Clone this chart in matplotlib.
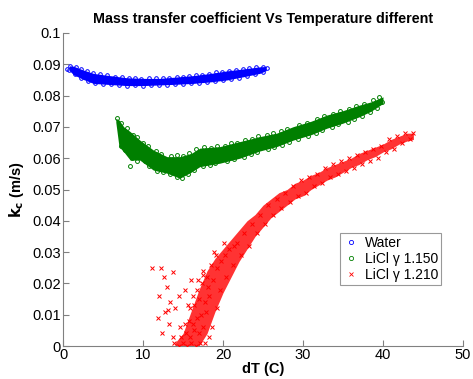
import matplotlib
matplotlib.use("Agg")
import matplotlib.pyplot as plt
from matplotlib.ticker import FuncFormatter
from matplotlib.lines import Line2D

plt.rcParams['font.family'] = ['Liberation Sans', 'DejaVu Sans']

title = "Mass transfer coefficient Vs Temperature different"
xlabel = "dT (C)"
ylabel = r"$\mathbf{k_c}$ (m/s)"
legend_labels = ["Water", "LiCl \u03b3 1.150", "LiCl \u03b3 1.210"]
xticks = [0, 10, 20, 30, 40, 50]
yticks = [0, 0.01, 0.02, 0.03, 0.04, 0.05, 0.06, 0.07, 0.08, 0.09, 0.1]

BLUE, GREEN, RED = '#0000ff', '#007f00', '#ff0000'

# ---- Water: band envelope + edge points ----
water_env_x = [0.8, 1.3, 2.5, 3.8, 5.5, 8.0, 10.0, 12.1, 14.0, 16.3, 18.5, 20.5, 22.5, 24.6, 25.4]
water_hi = [0.0895, 0.0894, 0.0882, 0.0871, 0.0865, 0.0857, 0.0855, 0.0855, 0.0859, 0.0864,
            0.0871, 0.0879, 0.0885, 0.0892, 0.0893]
water_lo = [0.0880, 0.0867, 0.0852, 0.0839, 0.0836, 0.0832, 0.0832, 0.0834, 0.0836, 0.0839,
            0.0844, 0.0850, 0.0860, 0.0871, 0.0880]
water_x = [0.9, 1.6, 2.2, 3.0, 3.8, 4.6, 5.5, 6.5, 7.4, 8.2, 9.0, 9.8, 10.8, 11.6, 12.5, 13.3,
           14.2, 15.0, 15.8, 16.6, 17.4, 18.3, 19.1, 19.9, 20.8, 21.6, 22.5, 23.3, 24.1, 25.0,
           0.8, 1.5, 2.3, 3.1, 4.0, 5.0, 6.0, 7.0, 8.0, 9.0, 10.0, 11.0, 12.0, 13.0, 14.0, 15.0,
           16.0, 17.0, 18.0, 19.0, 20.0, 21.0, 22.0, 23.0, 24.0, 25.0, 0.5, 25.5]
water_y = [0.0895, 0.0890, 0.0885, 0.0878, 0.0871, 0.0868, 0.0865, 0.0861, 0.0858, 0.0856,
           0.0857, 0.0854, 0.0855, 0.0857, 0.0855, 0.0857, 0.0859, 0.0861, 0.0862, 0.0865,
           0.0867, 0.0870, 0.0874, 0.0876, 0.0880, 0.0882, 0.0885, 0.0888, 0.0890, 0.0892,
           0.0882, 0.0868, 0.0856, 0.0846, 0.0840, 0.0837, 0.0836, 0.0834, 0.0832, 0.0833,
           0.0831, 0.0833, 0.0834, 0.0834, 0.0836, 0.0837, 0.0839, 0.0840, 0.0843, 0.0846,
           0.0849, 0.0853, 0.0857, 0.0863, 0.0868, 0.0876, 0.0886, 0.0889]

# ---- LiCl gamma 1.150 ----
licl1_env_x = [6.6, 7.0, 7.6, 8.4, 9.6, 11.3, 13.0, 14.6, 16.0, 17.1, 19.6, 22.1, 24.6, 26.7,
               28.8, 31.0, 33.0, 35.0, 37.1, 38.5, 40.0]
licl1_hi = [0.0727, 0.0722, 0.0700, 0.0685, 0.0658, 0.0626, 0.0605, 0.0605, 0.0615, 0.0632,
            0.0637, 0.0653, 0.0669, 0.0680, 0.0701, 0.0718, 0.0738, 0.0752, 0.0770, 0.0780, 0.0796]
licl1_lo = [0.0715, 0.0637, 0.0620, 0.0594, 0.0594, 0.0562, 0.0552, 0.0536, 0.0555, 0.0573,
            0.0584, 0.0600, 0.0623, 0.0637, 0.0658, 0.0675, 0.0696, 0.0712, 0.0733, 0.0750, 0.0775]
licl1_x = [6.7, 7.3, 8.0, 8.8, 9.3, 10.0, 10.6, 11.6, 12.3, 13.5, 14.2, 15.0, 15.8, 16.6, 17.6,
           18.5, 19.2, 20.2, 21.0, 21.8, 22.8, 23.6, 24.4, 25.5, 26.3, 27.2, 28.0, 29.5, 30.5,
           31.8, 32.6, 33.8, 34.6, 35.8, 36.6, 37.6, 38.8, 39.5,
           7.2, 7.8, 8.4, 8.6, 9.2, 10.2, 10.8, 11.8, 12.5, 13.4, 14.2, 14.9, 15.6, 16.4, 17.5,
           18.4, 19.0, 20.5, 21.4, 22.6, 23.5, 24.3, 25.6, 26.4, 27.4, 28.2, 29.4, 30.6, 31.6,
           32.4, 33.6, 34.4, 35.6, 36.4, 37.4, 38.4, 39.2, 39.9]
licl1_y = [0.0728, 0.0712, 0.0695, 0.0675, 0.0668, 0.0650, 0.0640, 0.0622, 0.0615, 0.0608,
           0.0610, 0.0608, 0.0616, 0.0628, 0.0635, 0.0632, 0.0640, 0.0640, 0.0648, 0.0650,
           0.0658, 0.0662, 0.0670, 0.0675, 0.0680, 0.0688, 0.0693, 0.0705, 0.0712, 0.0725,
           0.0735, 0.0742, 0.0750, 0.0758, 0.0767, 0.0772, 0.0785, 0.0795,
           0.0640, 0.0625, 0.0575, 0.0600, 0.0592, 0.0590, 0.0575, 0.0560, 0.0555, 0.0548,
           0.0540, 0.0538, 0.0550, 0.0562, 0.0575, 0.0578, 0.0585, 0.0590, 0.0598, 0.0603,
           0.0612, 0.0620, 0.0628, 0.0635, 0.0642, 0.0652, 0.0662, 0.0670, 0.0680, 0.0690,
           0.0700, 0.0708, 0.0715, 0.0725, 0.0735, 0.0748, 0.0760, 0.0778]

# ---- LiCl gamma 1.210 ----
licl2_env_x = [14.0, 15.0, 16.0, 17.0, 18.0, 19.0, 20.0, 21.0, 22.0, 23.0, 24.0, 25.0, 26.0,
               27.0, 28.0, 29.0, 30.0, 31.0, 32.0, 33.0, 34.0, 35.0, 36.0, 37.0, 38.0, 39.0,
               40.0, 41.0, 42.0, 43.0, 43.8]
licl2_lo = [0.000, 0.000, 0.000, 0.000, 0.004, 0.011, 0.017, 0.022, 0.027, 0.031, 0.035, 0.038,
            0.041, 0.043, 0.045, 0.047, 0.048, 0.050, 0.0515, 0.053, 0.054, 0.0555, 0.057,
            0.058, 0.0595, 0.0605, 0.062, 0.063, 0.0645, 0.0655, 0.066]
licl2_hi = [0.001, 0.004, 0.011, 0.018, 0.024, 0.028, 0.031, 0.034, 0.037, 0.040, 0.042, 0.045,
            0.047, 0.049, 0.050, 0.052, 0.053, 0.0545, 0.0555, 0.057, 0.058, 0.059, 0.060,
            0.0615, 0.0625, 0.0635, 0.0645, 0.066, 0.067, 0.068, 0.068]
licl2_x = [13.9, 14.5, 15.0, 15.5, 16.0, 16.6, 17.1, 14.8, 15.4, 15.9, 16.4, 17.0, 17.5, 15.3,
           15.8, 16.2, 16.8, 17.3, 17.9, 15.9, 16.4, 17.0, 17.7, 18.3, 16.2, 16.8, 18.1, 17.4,
           18.0, 18.8, 17.5, 19.2, 18.5, 19.8, 19.1, 20.3, 18.9, 20.7, 21.4, 20.1, 19.6, 20.4,
           21.2, 16.9, 17.7, 18.2, 18.6, 19.3,
           12.2, 12.6, 13.0, 12.0, 13.4, 12.8, 14.0, 13.3, 12.4, 14.6, 13.7, 15.2, 16.0, 15.6,
           14.5, 11.9, 13.8, 13.1, 17.5, 11.1,
           21.7, 22.3, 22.6, 23.2, 23.6, 24.2, 24.6, 25.2, 25.6, 26.3, 26.7, 27.3, 27.8, 28.4,
           28.8, 29.4, 29.8, 30.4, 30.8, 31.4, 31.8, 32.4, 32.8, 33.4, 33.8, 34.4, 34.8, 35.4,
           35.8, 36.4, 36.8, 37.4, 37.8, 38.4, 38.8, 39.4, 39.8, 40.4, 40.8, 41.4, 41.8, 42.4,
           42.8, 43.4, 43.8]
licl2_y = [0.001, 0.000, 0.001, 0.000, 0.001, 0.000, 0.001, 0.003, 0.004, 0.003, 0.005, 0.004,
           0.006, 0.007, 0.008, 0.007, 0.009, 0.010, 0.011, 0.012, 0.013, 0.015, 0.014, 0.016,
           0.016, 0.018, 0.019, 0.020, 0.022, 0.021, 0.024, 0.025, 0.026, 0.027, 0.029, 0.029,
           0.030, 0.031, 0.032, 0.033, 0.018, 0.022, 0.026, 0.021, 0.001, 0.003, 0.006, 0.012,
           0.025, 0.022, 0.019, 0.016, 0.014, 0.011, 0.012, 0.007, 0.004, 0.006, 0.003, 0.018,
           0.021, 0.013, 0.016, 0.009, 0.0236, 0.0115, 0.0227, 0.025,
           0.033, 0.029, 0.036, 0.032, 0.039, 0.036, 0.042, 0.039, 0.045, 0.042, 0.047, 0.044,
           0.049, 0.046, 0.051, 0.048, 0.053, 0.049, 0.054, 0.051, 0.055, 0.052, 0.057, 0.054,
           0.058, 0.055, 0.059, 0.056, 0.060, 0.057, 0.061, 0.058, 0.062, 0.059, 0.063, 0.060,
           0.064, 0.062, 0.066, 0.063, 0.067, 0.065, 0.068, 0.066, 0.068]

fig = plt.figure(figsize=(4.73, 3.79), dpi=100)
ax = fig.add_axes([63 / 473, 33 / 379, 400 / 473, 313 / 379])

# Water
ax.fill_between(water_env_x, water_lo, water_hi, color=BLUE, linewidth=0, zorder=2)
ax.plot(water_x, water_y, linestyle='none', marker='o', markersize=2.6,
        markerfacecolor='none', markeredgecolor=BLUE, markeredgewidth=0.7, zorder=3)
# LiCl 1.150
ax.fill_between(licl1_env_x, licl1_lo, licl1_hi, color=GREEN, linewidth=0, zorder=2)
ax.plot(licl1_x, licl1_y, linestyle='none', marker='o', markersize=2.8,
        markerfacecolor='none', markeredgecolor=GREEN, markeredgewidth=0.7, zorder=3)
# LiCl 1.210
ax.fill_between(licl2_env_x, licl2_lo, licl2_hi, color=RED, alpha=0.8, linewidth=0, zorder=2)
ax.plot(licl2_x, licl2_y, linestyle='none', marker='x', markersize=2.5,
        color=RED, markeredgewidth=0.7, zorder=3)

ax.set_xlim(0, 50)
ax.set_ylim(0, 0.1)
ax.set_xticks(xticks)
ax.set_yticks(yticks)
ax.yaxis.set_major_formatter(FuncFormatter(lambda v, p: f"{v:g}"))
ax.tick_params(direction='in', length=4, labelsize=10.5, labelcolor='black', width=0.8,
               pad=1.5, color='#808080')
ax.spines['top'].set_visible(False)
ax.spines['right'].set_visible(False)
for s in ('left', 'bottom'):
    ax.spines[s].set_color('#808080')
    ax.spines[s].set_linewidth(0.8)

ax.set_title(title, fontsize=10.3, fontweight='bold', pad=7)
ax.set_xlabel(xlabel, fontsize=10.5, fontweight='bold')
ax.xaxis.set_label_coords(0.5, -0.052)
ax.set_ylabel(ylabel, fontsize=10.5, fontweight='bold')
ax.yaxis.set_label_coords(-0.093, 0.5)

handles = [
    Line2D([], [], linestyle='none', marker='o', markersize=3, markerfacecolor='none',
           markeredgecolor=BLUE, markeredgewidth=0.6),
    Line2D([], [], linestyle='none', marker='o', markersize=3, markerfacecolor='none',
           markeredgecolor=GREEN, markeredgewidth=0.6),
    Line2D([], [], linestyle='none', marker='x', markersize=2.5, color=RED, markeredgewidth=0.6),
]
leg = ax.legend(handles, legend_labels, loc='upper right', bbox_to_anchor=(0.945, 0.361),
                fontsize=10, frameon=True, fancybox=False, edgecolor='#808080', borderpad=0.2,
                handletextpad=0.4, handlelength=1.2, labelspacing=0.15, borderaxespad=0)
leg.get_frame().set_linewidth(0.8)

fig.savefig("out.png", dpi=100)
